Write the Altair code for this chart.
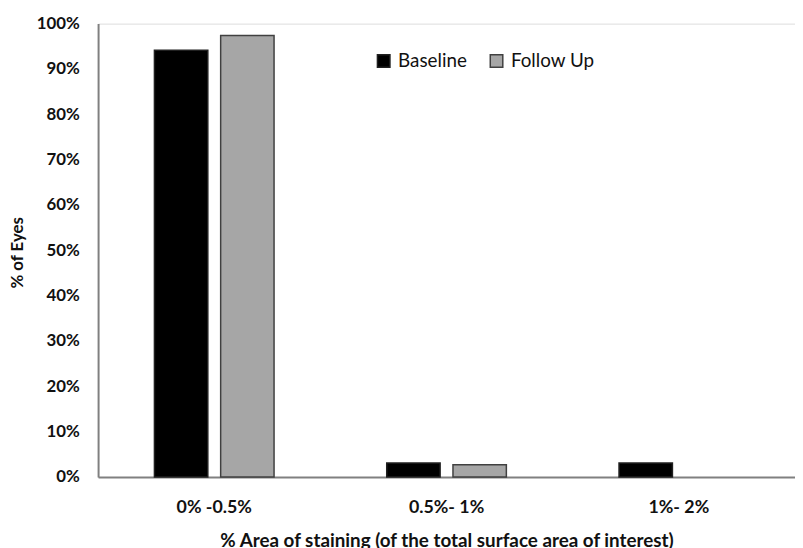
import altair as alt
import pandas as pd

categories = ["0% -0.5%", "0.5%- 1%", "1%- 2%"]
series = ["Baseline", "Follow Up"]
baseline = [94.1, 3.1, 3.1]
follow_up = [97.4, 2.7, 0.0]
y_ticks = [0, 10, 20, 30, 40, 50, 60, 70, 80, 90, 100]

rows = []
for c, b, f in zip(categories, baseline, follow_up):
    rows.append({"cat": c, "series": "Baseline", "value": b})
    rows.append({"cat": c, "series": "Follow Up", "value": f})
df = pd.DataFrame(rows)

FONT = "Lato"

chart = alt.Chart(df).mark_bar(strokeWidth=1.5).encode(
    x=alt.X("cat:N", sort=categories,
            scale=alt.Scale(domain=categories, paddingInner=0.485, paddingOuter=0.2425),
            axis=alt.Axis(title="% Area of staining (of the total surface area of interest)",
                          labelAngle=0, labelFontSize=18, labelFontWeight="bold",
                          labelPadding=22, titleFontSize=19, titleFontWeight="bold",
                          titlePadding=15, ticks=False, domainColor="#808080",
                          domainWidth=2)),
    xOffset=alt.XOffset("series:N", sort=series,
                        scale=alt.Scale(domain=series, paddingInner=0.194, paddingOuter=0)),
    y=alt.Y("value:Q", scale=alt.Scale(domain=[0, 100], nice=False),
            axis=alt.Axis(title="% of Eyes", values=y_ticks,
                          labelExpr="datum.value + '%'", labelFontSize=17,
                          labelFontWeight="bold", labelPadding=19, ticks=False,
                          grid=False, domainColor="#808080", domainWidth=2,
                          titleFontSize=17, titleFontWeight="bold",
                          titleX=-81, titleBaseline="middle", titleY=231)),
    color=alt.Color("series:N", sort=series,
                    scale=alt.Scale(domain=series, range=["#000000", "#a6a6a6"]),
                    legend=alt.Legend(title=None, orient="none", legendX=279,
                                      legendY=28, direction="horizontal",
                                      symbolType="square", symbolSize=160,
                                      symbolStrokeColor="#404040", symbolStrokeWidth=1.5,
                                      labelFontSize=19, labelFontWeight="normal",
                                      labelOffset=5, columnPadding=20)),
    stroke=alt.Stroke("series:N", sort=series,
                      scale=alt.Scale(domain=series, range=["#202020", "#404040"]),
                      legend=None),
).transform_filter(
    "datum.value > 0"
).properties(
    width=704,
    height=458,
    padding={"left": 91, "top": 13, "right": 0, "bottom": 75},
    autosize=alt.AutoSizeParams(type="none"),
).configure_view(stroke=None).configure(font=FONT).configure_axis(
    labelColor="#111111", titleColor="#111111", labelFont=FONT, titleFont=FONT
).configure_legend(labelFont=FONT, labelColor="#111111")

chart.save("out.html", embed_options={"renderer": "svg", "actions": False})
